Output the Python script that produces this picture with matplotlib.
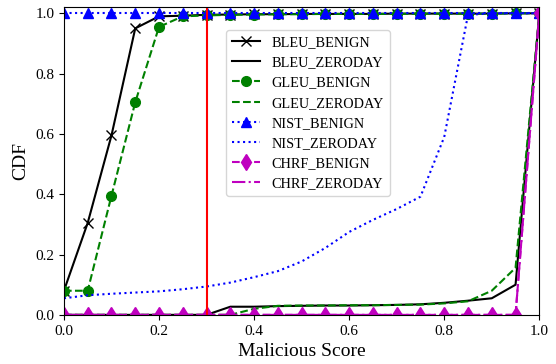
import matplotlib
matplotlib.use("Agg")
import matplotlib.pyplot as plt
import numpy as np

plt.rcParams['font.family'] = ['Liberation Serif', 'DejaVu Serif']

scores = [0.0, 0.05, 0.1, 0.15, 0.2, 0.25, 0.3, 0.35, 0.4, 0.45, 0.5,
          0.55, 0.6, 0.65, 0.7, 0.75, 0.8, 0.85, 0.9, 0.95, 1.0]

bleu_benign = [0.08, 0.305, 0.595, 0.95, 0.99, 0.992, 0.995, 0.996, 0.997, 0.997, 0.998,
               0.998, 0.998, 0.998, 0.999, 0.999, 0.999, 0.999, 0.999, 1.0, 1.0]
bleu_zeroday = [0.0, 0.0, 0.0, 0.0, 0.0, 0.0, 0.0, 0.027, 0.027, 0.029, 0.03,
                0.031, 0.031, 0.032, 0.033, 0.035, 0.04, 0.047, 0.055, 0.10, 1.0]
gleu_benign = [0.08, 0.08, 0.395, 0.705, 0.955, 0.99, 0.993, 0.995, 0.996, 0.997, 0.997,
               0.998, 0.998, 0.998, 0.998, 0.999, 0.999, 0.999, 0.999, 1.0, 1.0]
gleu_zeroday = [0.0, 0.0, 0.0, 0.0, 0.0, 0.0, 0.0, 0.0, 0.02, 0.03, 0.031,
                0.031, 0.032, 0.032, 0.033, 0.034, 0.038, 0.045, 0.08, 0.156, 1.0]
nist_benign = [1.0] * 21
nist_zeroday = [0.055, 0.065, 0.07, 0.074, 0.078, 0.085, 0.094, 0.107, 0.125, 0.145, 0.177,
                0.222, 0.275, 0.315, 0.351, 0.392, 0.59, 0.995, 1.0, 1.0, 1.0]
chrf_benign = [0.0] * 20 + [1.0]
chrf_zeroday = [0.0] * 20 + [1.0]
threshold = 0.3

fig, ax = plt.subplots(figsize=(5.56, 3.64), dpi=100)
lw = 1.5
ax.plot(scores, bleu_benign, color='k', ls='-', marker='x', ms=7.5, lw=lw, label='BLEU_BENIGN')
ax.plot(scores, bleu_zeroday, color='k', ls='-', lw=lw, label='BLEU_ZERODAY')
ax.plot(scores, gleu_benign, color='g', ls='--', marker='o', ms=7, lw=lw, label='GLEU_BENIGN')
ax.plot(scores, gleu_zeroday, color='g', ls='--', lw=lw, label='GLEU_ZERODAY')
ax.plot(scores, nist_benign, color='b', ls=':', marker='^', ms=7, lw=lw, label='NIST_BENIGN')
ax.plot(scores, nist_zeroday, color='b', ls=':', lw=lw, label='NIST_ZERODAY')
ax.plot(scores, chrf_benign, color='m', ls='--', marker='d', ms=8, lw=lw, label='CHRF_BENIGN')
ax.plot(scores, chrf_zeroday, color='m', ls='-.', lw=lw, label='CHRF_ZERODAY')
ax.axvline(threshold, color='red', lw=1.5)

ax.set_xlim(0, 1.0)
ax.set_ylim(0, 1.02)
ax.set_xticks([0.0, 0.2, 0.4, 0.6, 0.8, 1.0])
ax.set_yticks([0.0, 0.2, 0.4, 0.6, 0.8, 1.0])
ax.tick_params(labelsize=11)
ax.set_xlabel('Malicious Score', fontsize=14)
ax.set_ylabel('CDF', fontsize=14)
ax.legend(loc='upper center', bbox_to_anchor=(0.513, 0.948), fontsize=10.3)

fig.subplots_adjust(left=0.115, right=0.97, top=0.98, bottom=0.135)
fig.savefig('out.png', dpi=100)
